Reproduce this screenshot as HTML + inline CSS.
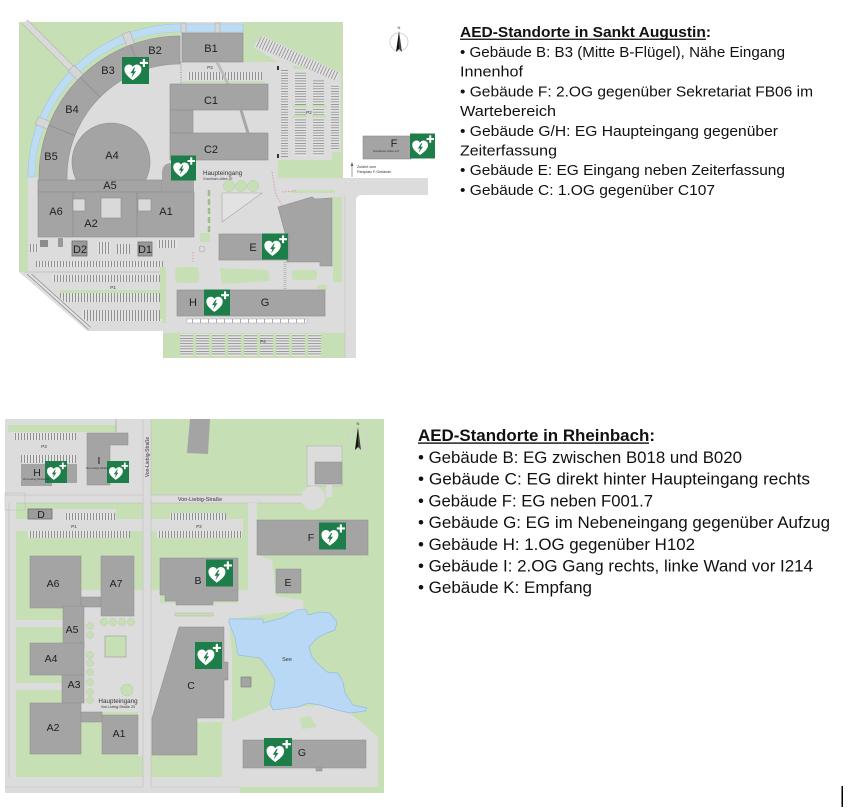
<!DOCTYPE html>
<html><head><meta charset="utf-8"><style>
html,body{margin:0;padding:0;background:#fff;}
svg{display:block;}
text{font-family:"Liberation Sans",Arial,sans-serif;}
.lb{font-size:11px;fill:#1e1e1e;text-anchor:middle;}
.lb2{font-size:10.5px;fill:#1e1e1e;text-anchor:middle;}
.tn{fill:#333;text-anchor:middle;}
.tx{font-size:15px;fill:#111;}
.tx2{font-size:16.5px;fill:#111;}
</style></head><body>
<svg width="857" height="808" viewBox="0 0 857 808" xmlns="http://www.w3.org/2000/svg">
<defs>
<symbol id="aed" viewBox="0 0 100 100">
<rect width="100" height="100" fill="#1e7e4a"/>
<path d="M40,86 C26,75 9,63 9,46 C9,35 17,28 26,28 C33,28 38,32 40,37 C43,32 48,28 55,28 C64,28 72,35 72,46 C72,63 55,75 40,86 Z" fill="#fff"/>
<path d="M45,39 L31,60 L40,60 L35,77 L52,53 L43,53 L49,39 Z" fill="#1e7e4a"/>
<path d="M77,7 H85 V18 H96 V26 H85 V37 H77 V26 H66 V18 H77 Z" fill="#fff"/>
</symbol>
<pattern id="vst" width="3" height="10" patternUnits="userSpaceOnUse"><rect width="3" height="10" fill="#e4e4e4"/><rect width="0.8" height="10" fill="#7c7c7c"/></pattern>
<pattern id="hst" width="10" height="2.6" patternUnits="userSpaceOnUse"><rect width="10" height="2.6" fill="#e4e4e4"/><rect width="10" height="0.7" fill="#7c7c7c"/></pattern>
<pattern id="dst" width="3" height="10" patternUnits="userSpaceOnUse" patternTransform="rotate(25)"><rect width="3" height="10" fill="#e4e4e4"/><rect width="0.8" height="10" fill="#8a8a8a"/></pattern>
<pattern id="dst2" width="3" height="10" patternUnits="userSpaceOnUse" patternTransform="rotate(-48)"><rect width="3" height="10" fill="#e4e4e4"/><rect width="0.8" height="10" fill="#8a8a8a"/></pattern>
<pattern id="wst" width="8" height="5" patternUnits="userSpaceOnUse"><rect width="8" height="5" fill="#fff"/><rect width="0.7" height="5" fill="#888"/></pattern>
</defs>

<!-- ================= TOP MAP (Sankt Augustin) ================= -->
<path d="M19,22 L343,22 L343,178 L428,178 L428,195 L362,195 Q356,195 356,201 L356,358 L163,358 L163,331 L87,331 L19,272 Z" fill="#dcdcdc"/>
<path d="M19,22 L180,22 L180,25 A152,152 0 0 0 28,177 L28,182 L24,182 L24,272 L19,272 Z" fill="#c6dfb4"/>
<line x1="25" y1="22" x2="81" y2="78" stroke="#b9b9b9" stroke-width="7"/>
<line x1="25" y1="22" x2="81" y2="78" stroke="#dadada" stroke-width="5.6"/>
<!-- right green -->
<path d="M243,22 L343,22 L343,178 L278,178 L278,62 L243,62 Z" fill="#c6dfb4"/>
<!-- P2 -->
<polygon points="253,47 262,35 341,73 341,152 332,160 278,160 278,62" fill="#dcdcdc"/>
<polygon points="254,46 262,36 340,73 336,81" fill="url(#dst)"/>
<rect x="281" y="70" width="7" height="87" fill="url(#hst)"/>
<rect x="295" y="72" width="11" height="84" fill="url(#hst)"/>
<rect x="313" y="80" width="11" height="76" fill="url(#hst)"/>
<rect x="331" y="84" width="8" height="66" fill="url(#hst)"/>
<g fill="#c6dfb4"><rect x="293" y="105" width="14" height="3"/><rect x="312" y="105" width="14" height="3"/><rect x="293" y="115" width="14" height="3"/><rect x="312" y="115" width="14" height="3"/><rect x="293" y="66" width="13" height="3"/><rect x="279" y="163" width="45" height="4"/><rect x="288" y="173" width="37" height="3"/><rect x="332" y="152" width="10" height="26"/></g>
<rect x="277" y="66" width="2" height="4" fill="#333"/><rect x="277" y="154" width="2" height="4" fill="#333"/>

<!-- water ring -->
<path d="M180,24 L243,24 L243,32 L180,32 A145,145 0 0 0 35,177 L28,177 A152,152 0 0 1 180,24 Z" fill="#bddcf3" stroke="#9ec4e4" stroke-width=".6"/>
<path d="M180,32 A145,145 0 0 0 35,177 L39,177 A141,141 0 0 1 180,36 Z" fill="#c6dfb4"/>
<g fill="#d6d6d6" stroke="#a8a8a8" stroke-width=".5">
<rect x="140" y="-4" width="14" height="8" transform="translate(180,177) rotate(-110.5)"/>
<rect x="140" y="-4" width="14" height="8" transform="translate(180,177) rotate(-135)"/>
<rect x="140" y="-4" width="14" height="8" transform="translate(180,177) rotate(-158.5)"/>
<rect x="181" y="23" width="5" height="10"/>
<rect x="215" y="23" width="5" height="10"/>
</g>
<!-- B ring -->
<path d="M180,36 A141,141 0 0 0 39,177 L39,181 L67,181 L67,177 A113,113 0 0 1 180,64 Z" fill="#a4a4a4" stroke="#8e8e8e" stroke-width=".6"/>
<g stroke="#8a8a8a" stroke-width=".7">
<line x1="140.4" y1="71.1" x2="130.6" y2="44.9"/>
<line x1="100.1" y1="97.1" x2="80.3" y2="77.3"/>
<line x1="74.9" y1="135.5" x2="48.9" y2="125.3"/>
</g>
<rect x="182" y="33" width="61" height="29" fill="#a4a4a4" stroke="#8e8e8e" stroke-width=".6"/>
<!-- P3 -->
<rect x="187" y="72" width="75" height="8" fill="url(#vst)"/>
<rect x="183" y="81" width="82" height="2" fill="#c6dfb4"/>
<line x1="181" y1="62" x2="181" y2="84" stroke="#8a8a8a" stroke-width="1" stroke-dasharray="1,1.5"/>
<line x1="217" y1="62" x2="228" y2="84" stroke="#bcbcbc" stroke-width="3"/>
<!-- A complex -->
<circle cx="111" cy="162" r="39" fill="#a4a4a4" stroke="#8e8e8e" stroke-width=".6"/>
<rect x="38" y="180" width="124" height="12" fill="#a4a4a4" stroke="#8e8e8e" stroke-width=".6"/>
<path d="M162,192 L162,173 Q162,163 172,163 L194,163 L194,192 Z" fill="#a4a4a4"/>
<rect x="38" y="192" width="156" height="45" fill="#a4a4a4" stroke="#8e8e8e" stroke-width=".6"/>
<g stroke="#8a8a8a" stroke-width=".7"><line x1="73" y1="192" x2="73" y2="237"/><line x1="137" y1="192" x2="137" y2="237"/></g>
<g fill="#d9d9d9" stroke="#8a8a8a" stroke-width=".6"><rect x="73" y="199" width="12" height="12"/><rect x="101" y="198" width="20" height="20"/><rect x="138" y="199" width="13" height="12"/></g>
<!-- C buildings -->
<g fill="#a4a4a4" stroke="#8e8e8e" stroke-width=".6">
<rect x="170" y="84" width="98" height="26"/><rect x="170" y="133" width="98" height="27"/><rect x="170" y="110" width="23" height="23"/>
</g>
<line x1="241" y1="110" x2="248" y2="133" stroke="#a6a6a6" stroke-width="3"/>
<!-- under A -->
<rect x="72" y="241" width="15" height="15" fill="#9a9a9a" stroke="#6f6f6f" stroke-width=".8"/>
<rect x="138" y="242" width="14" height="14" fill="#9a9a9a" stroke="#6f6f6f" stroke-width=".8"/>
<rect x="40" y="240" width="8" height="7" fill="#8c8c8c"/><rect x="58" y="238" width="5" height="9" fill="#999"/>
<rect x="30" y="244" width="9" height="8" fill="url(#vst)"/><rect x="98" y="242" width="12" height="12" fill="url(#vst)"/><rect x="117" y="244" width="13" height="10" fill="url(#vst)"/><rect x="157" y="240" width="20" height="8" fill="url(#vst)"/>
<rect x="36" y="261" width="127" height="6" fill="url(#vst)"/>
<line x1="24" y1="272" x2="162" y2="272" stroke="#aaa" stroke-width=".6"/>
<rect x="52" y="275" width="113" height="7" fill="url(#vst)"/>
<rect x="60" y="290" width="105" height="3" fill="#c6dfb4"/>
<rect x="60" y="293" width="105" height="9" fill="url(#vst)"/>
<rect x="82" y="310" width="83" height="11" fill="url(#vst)"/>
<rect x="162" y="290" width="4" height="33" fill="#c6dfb4"/>
<polygon points="25,274 33,274 92,326 87,331" fill="url(#dst2)"/>
<rect x="24" y="182" width="4" height="90" fill="#c6dfb4"/>
<!-- plaza details -->
<g fill="#c6dfb4" stroke="#b2cc9e" stroke-width=".5"><circle cx="229" cy="186" r="5.5"/><circle cx="241" cy="186" r="5.5"/><circle cx="253" cy="186" r="5.5"/></g>
<polygon points="222,193 262,193 222,222" fill="#e2e2e2" stroke="#a8a8a8" stroke-width=".6"/>
<line x1="209" y1="190" x2="209" y2="232" stroke="#9cc08a" stroke-width="2.5" stroke-dasharray="6,3"/>
<rect x="292" y="190" width="43" height="3" fill="#c6dfb4"/>
<rect x="333" y="197" width="9" height="85" fill="#c6dfb4"/>
<path d="M272,172 L276,195 L282,205 M282,192 L296,191 M193,252 L193,262" stroke="#e59aa5" stroke-width="1" stroke-dasharray="1.5,1.5" fill="none"/>
<rect x="200" y="233" width="10" height="9" fill="#c6dfb4"/>
<circle cx="202" cy="249" r="3" fill="none" stroke="#aaa" stroke-width=".6"/>
<!-- E and right building -->
<polygon points="278,207 312,197 315,199 332,198 332,266 320,266 320,262 287,262 287,240" fill="#a4a4a4" stroke="#8e8e8e" stroke-width=".6"/>
<rect x="219" y="234" width="70" height="26" fill="#a4a4a4" stroke="#8e8e8e" stroke-width=".6"/>
<!-- greens south -->
<g fill="#c6dfb4"><rect x="175" y="267" width="24" height="16" rx="4"/><polygon points="220,268 268,270 270,281 222,284"/><rect x="292" y="270" width="25" height="10" rx="3"/><rect x="317" y="285" width="10" height="5"/><rect x="160" y="267" width="6" height="52"/></g>
<line x1="285" y1="262" x2="285" y2="290" stroke="#bbb" stroke-width="3" stroke-dasharray="1,1"/>
<!-- G/H -->
<rect x="177" y="290" width="148" height="26" fill="#a4a4a4" stroke="#8e8e8e" stroke-width=".6"/>
<rect x="187" y="319" width="120" height="4" fill="url(#wst)" stroke="#999" stroke-width=".4"/>
<!-- P4 -->
<rect x="163" y="333" width="182" height="25" fill="#c6dfb4"/>
<g fill="url(#hst)"><rect x="180" y="334" width="13" height="22"/><rect x="196" y="334" width="13" height="22"/><rect x="212" y="334" width="13" height="22"/><rect x="228" y="334" width="13" height="22"/><rect x="244" y="334" width="13" height="22"/><rect x="260" y="334" width="13" height="22"/><rect x="276" y="334" width="13" height="22"/><rect x="292" y="334" width="13" height="22"/><rect x="308" y="334" width="13" height="22"/></g>
<rect x="345" y="195" width="11" height="163" fill="#dcdcdc"/>
<line x1="345" y1="195" x2="345" y2="358" stroke="#c4c4c4" stroke-width=".6"/>
<!-- F -->
<rect x="363" y="136" width="48" height="23" fill="#a4a4a4" stroke="#8e8e8e" stroke-width=".6"/>
<!-- compass -->
<circle cx="399" cy="42" r="9" fill="none" stroke="#d4d4d4" stroke-width="1"/>
<polygon points="399,31 396,52 399,49" fill="#111"/><polygon points="399,31 402,52 399,49" fill="#444"/>
<text x="399" y="29" font-size="4" class="tn">N</text>
<!-- arrow Zufahrt -->
<line x1="352" y1="177" x2="352" y2="164" stroke="#666" stroke-width=".6"/><polygon points="352,162 350.5,166 353.5,166" fill="#666"/>
<text x="357" y="168" font-size="3.6" fill="#333">Zufahrt zum</text>
<text x="357" y="173" font-size="3.6" fill="#333">Parkplatz F-Gebäude</text>

<!-- AEDs top -->
<use href="#aed" x="122" y="57" width="27" height="27"/>
<use href="#aed" x="171" y="155" width="25" height="26"/>
<use href="#aed" x="410" y="133" width="25" height="26"/>
<use href="#aed" x="262" y="233" width="26" height="27"/>
<use href="#aed" x="204" y="289" width="26" height="27"/>

<!-- labels top -->
<text class="lb" x="211" y="52">B1</text>
<text class="lb" x="155" y="54">B2</text>
<text class="lb" x="108" y="74">B3</text>
<text class="lb" x="72" y="113">B4</text>
<text class="lb" x="51" y="160">B5</text>
<text class="lb" x="112" y="159">A4</text>
<text class="lb" x="110" y="189" font-size="10">A5</text>
<text class="lb" x="56" y="215">A6</text>
<text class="lb" x="91" y="227">A2</text>
<text class="lb" x="166" y="215">A1</text>
<text class="lb" x="211" y="104">C1</text>
<text class="lb" x="211" y="153">C2</text>
<text class="lb" x="80" y="253">D2</text>
<text class="lb" x="145" y="253">D1</text>
<text class="lb" x="253" y="251">E</text>
<text class="lb" x="193" y="306">H</text>
<text class="lb" x="265" y="306">G</text>
<text class="lb" x="394" y="147">F</text>
<text x="386" y="152" font-size="3" class="tn">Grantham-Allee 2-6</text>
<text x="210" y="69" font-size="4.5" class="tn">P3</text>
<text x="309" y="114" font-size="4.5" class="tn">P2</text>
<text x="113" y="289" font-size="4.5" class="tn">P1</text>
<text x="263" y="343" font-size="4.5" class="tn">P4</text>
<text x="203" y="175" font-size="6.3" fill="#333">Haupteingang</text>
<text x="203" y="180" font-size="3.5" fill="#444">Grantham-Allee 20</text>

<!-- ================= LOWER MAP (Rheinbach) ================= -->
<rect x="5" y="419" width="379" height="374" fill="#c6dfb4"/>
<rect x="5" y="419" width="138" height="76" fill="#dcdcdc"/>
<rect x="8" y="425" width="108" height="7" fill="#c6dfb4"/>
<line x1="116" y1="419" x2="116" y2="432" stroke="#999" stroke-width=".6"/>
<rect x="14" y="433" width="62" height="7" fill="url(#vst)"/>
<rect x="21" y="455" width="55" height="8" fill="url(#vst)"/>
<text x="44" y="448" font-size="4.5" class="tn">P3</text>
<rect x="21" y="464" width="56" height="19" fill="#a4a4a4"/><rect x="21" y="483" width="31" height="3" fill="#a4a4a4"/>
<path d="M87,433 L128,433 L128,445 L110,445 L110,485 L87,485 Z" fill="#a4a4a4" stroke="#8e8e8e" stroke-width=".5"/>
<polygon points="190,419 210,419 208,454 187,453" fill="#a4a4a4"/>
<rect x="307" y="446" width="35" height="40" fill="#dcdcdc" stroke="#aaa" stroke-width=".5"/>
<rect x="315" y="462" width="27" height="22" fill="#a4a4a4" stroke="#8e8e8e" stroke-width=".5"/>
<rect x="326" y="485" width="6" height="12" fill="#dcdcdc"/>
<!-- roads -->
<rect x="5" y="495" width="305" height="8" fill="#dcdcdc"/>
<circle cx="313" cy="498" r="12" fill="#dcdcdc"/>
<line x1="5" y1="495" x2="302" y2="495" stroke="#b8b8b8" stroke-width=".5"/>
<line x1="16" y1="503" x2="302" y2="503" stroke="#b8b8b8" stroke-width=".5"/>
<rect x="5" y="503" width="11" height="290" fill="#dcdcdc"/>
<line x1="9" y1="503" x2="9" y2="787" stroke="#bcbcbc" stroke-width=".6"/>
<rect x="5" y="777" width="235" height="16" fill="#dcdcdc"/>
<line x1="5" y1="787" x2="240" y2="787" stroke="#bcbcbc" stroke-width=".6"/>
<rect x="5" y="493" width="20" height="17" fill="none" stroke="#bbb" stroke-width=".5"/>
<!-- P1 / P2 -->
<rect x="16" y="519" width="127" height="12" fill="#dcdcdc"/>
<rect x="52" y="509" width="64" height="10" fill="#dcdcdc"/>
<rect x="65" y="513" width="50" height="7" fill="url(#vst)"/>
<rect x="28" y="509" width="24" height="10" fill="#9c9c9c" stroke="#6f6f6f" stroke-width=".8"/>
<rect x="28" y="531" width="102" height="7" fill="url(#vst)"/>
<text x="74" y="528" font-size="4.5" class="tn">P1</text>
<rect x="151" y="519" width="92" height="12" fill="#dcdcdc"/>
<rect x="170" y="513" width="56" height="7" fill="url(#vst)"/>
<rect x="157" y="531" width="85" height="7" fill="url(#vst)"/>
<text x="199" y="528" font-size="4.5" class="tn">P2</text>
<rect x="248" y="503" width="9" height="55" fill="#dcdcdc"/>
<!-- plaza -->
<polygon points="78,590 160,590 160,603 238,603 238,590 248,590 248,555 257,555 272,560 276,596 303,600 303,610 229,619 232,655 232,722 152,723 152,718 138,718 138,712 78,712" fill="#dcdcdc"/>
<rect x="16" y="620" width="47" height="7" fill="#dcdcdc"/>
<rect x="16" y="683" width="46" height="7" fill="#dcdcdc"/>
<rect x="138" y="712" width="5" height="44" fill="#dcdcdc"/>
<!-- G region -->
<polygon points="222,723 232,722 270,706 273,710 298,707 320,705 337,710 350,713 378,737 378,787 240,787 240,777 222,777" fill="#dcdcdc"/>
<polygon points="300,718 310,716 317,727 302,729" fill="#c6dfb4"/>
<rect x="143" y="419" width="8" height="374" fill="#dcdcdc"/>
<line x1="143" y1="419" x2="143" y2="787" stroke="#b8b8b8" stroke-width=".5"/>
<line x1="151" y1="419" x2="151" y2="787" stroke="#b8b8b8" stroke-width=".5"/>
<!-- plaza greens -->
<rect x="105" y="636" width="21" height="21" fill="#c6dfb4" stroke="#9a9a9a" stroke-width=".6"/>
<g fill="#c6dfb4" stroke="#b2cc9e" stroke-width=".5">
<circle cx="104" cy="622" r="3.6"/><circle cx="113" cy="622" r="3.6"/><circle cx="122" cy="622" r="3.6"/><circle cx="131" cy="622" r="3.6"/>
<circle cx="90" cy="626" r="3.4"/><circle cx="90" cy="635" r="3.4"/><circle cx="90" cy="655" r="3.4"/><circle cx="90" cy="663" r="3.4"/><circle cx="90" cy="672" r="3.4"/><circle cx="90" cy="682" r="3.4"/><circle cx="90" cy="692" r="3.4"/><circle cx="90" cy="700" r="3.4"/>
<circle cx="127" cy="690" r="6"/></g>
<rect x="175" y="613" width="38" height="3" fill="#c6dfb4" stroke="#aaa" stroke-width=".4"/>
<!-- lake -->
<polygon points="229,619 263,619 263,623 282,618 297,610 305,609 308,615 320,612 330,613 337,622 335,630 327,633 317,638 309,647 312,657 317,663 327,672 338,673 343,682 345,693 353,705 367,708 365,711 350,713 337,710 320,705 308,703 298,707 273,710 270,703 273,693 275,680 267,667 260,658 238,655 235,637 229,623" fill="#b9d8f6" stroke="#93bde6" stroke-width=".7" stroke-linejoin="round"/>
<rect x="241" y="677" width="10" height="10" fill="#a4a4a4" stroke="#777" stroke-width=".6"/>
<!-- buildings lower -->
<g fill="#a4a4a4" stroke="#8e8e8e" stroke-width=".5">
<rect x="257" y="520" width="111" height="35"/>
<rect x="276" y="569" width="25" height="24"/>
<path d="M160,558 L238,558 L238,601 L213,601 L213,605 L176,605 L176,601 L165,601 L165,595 L160,595 Z"/>
<rect x="30" y="556" width="51" height="52"/>
<rect x="81" y="597" width="20" height="10"/>
<rect x="101" y="556" width="33" height="60"/>
<rect x="63" y="606" width="21" height="42"/>
<rect x="30" y="643" width="54" height="32"/>
<rect x="62" y="675" width="22" height="28"/>
<rect x="30" y="703" width="51" height="51"/>
<rect x="81" y="712" width="21" height="10"/>
<rect x="102" y="715" width="36" height="39"/>
<path d="M179,627 L224,627 L224,662 L228,662 L228,680 L224,680 L224,718 L197,718 L197,755 L152,755 L152,718 Z"/>
<rect x="243" y="740" width="123" height="28"/>
<rect x="316" y="767" width="6" height="4"/>
</g>
<!-- compass lower -->
<circle cx="358" cy="440" r="10" fill="none" stroke="#d0d0d0" stroke-width="1"/>
<polygon points="358,427 355,450 358,447" fill="#111"/><polygon points="358,427 361,450 358,447" fill="#444"/>
<text x="358" y="425" font-size="4" class="tn">N</text>
<!-- AEDs lower -->
<use href="#aed" x="45" y="461" width="22" height="22"/>
<use href="#aed" x="107" y="461" width="22" height="22"/>
<use href="#aed" x="319" y="522" width="27" height="28"/>
<use href="#aed" x="206" y="559" width="27" height="28"/>
<use href="#aed" x="195" y="642" width="27" height="27"/>
<use href="#aed" x="264" y="738" width="28" height="28"/>
<!-- labels lower -->
<text class="lb2" x="37" y="476">H</text>
<text x="36" y="480" font-size="2.8" class="tn">Von-Liebig-Straße 22</text>
<text class="lb2" x="99" y="464">I</text>
<text x="97" y="469" font-size="2.8" class="tn">Von-Liebig-Straße</text>
<text class="lb2" x="41" y="518">D</text>
<text class="lb2" x="311" y="541">F</text>
<text class="lb2" x="198" y="584">B</text>
<text class="lb2" x="288" y="586">E</text>
<text class="lb2" x="53" y="587">A6</text>
<text class="lb2" x="116" y="587">A7</text>
<text class="lb2" x="72" y="633">A5</text>
<text class="lb2" x="51" y="662">A4</text>
<text class="lb2" x="74" y="688">A3</text>
<text class="lb2" x="53" y="731">A2</text>
<text class="lb2" x="119" y="737">A1</text>
<text class="lb2" x="191" y="689">C</text>
<text class="lb2" x="302" y="756">G</text>
<text x="287" y="661" font-size="5.5" class="tn">See</text>
<text x="118" y="703" font-size="6.3" class="tn">Haupteingang</text>
<text x="118" y="708" font-size="3.6" class="tn">Von-Liebig-Straße 20</text>
<text x="200" y="501" font-size="5.5" class="tn">Von-Liebig-Straße</text>
<text x="0" y="0" font-size="5" class="tn" transform="translate(149,457) rotate(-90)">Von-Liebig-Straße</text>

<!-- ================= TEXT BLOCKS ================= -->
<text class="tx" x="460" y="37" font-weight="bold" textLength="251" lengthAdjust="spacingAndGlyphs">AED-Standorte in Sankt Augustin:</text>
<rect x="460" y="38.6" width="246" height="1.3" fill="#111"/>
<text class="tx" x="460" y="57" textLength="325" lengthAdjust="spacingAndGlyphs">• Gebäude B: B3 (Mitte B-Flügel), Nähe Eingang</text>
<text class="tx" x="460" y="76.7" textLength="63" lengthAdjust="spacingAndGlyphs">Innenhof</text>
<text class="tx" x="460" y="96.4" textLength="353" lengthAdjust="spacingAndGlyphs">• Gebäude F: 2.OG gegenüber Sekretariat FB06 im</text>
<text class="tx" x="460" y="116" textLength="96" lengthAdjust="spacingAndGlyphs">Wartebereich</text>
<text class="tx" x="460" y="135.8" textLength="318" lengthAdjust="spacingAndGlyphs">• Gebäude G/H: EG Haupteingang gegenüber</text>
<text class="tx" x="460" y="155.5" textLength="97" lengthAdjust="spacingAndGlyphs">Zeiterfassung</text>
<text class="tx" x="460" y="175.2" textLength="325" lengthAdjust="spacingAndGlyphs">• Gebäude E: EG Eingang neben Zeiterfassung</text>
<text class="tx" x="460" y="195" textLength="255" lengthAdjust="spacingAndGlyphs">• Gebäude C: 1.OG gegenüber C107</text>

<text class="tx2" x="418" y="441" font-weight="bold" textLength="237" lengthAdjust="spacingAndGlyphs">AED-Standorte in Rheinbach:</text>
<rect x="418" y="442.4" width="231" height="1.4" fill="#111"/>
<text class="tx2" x="418" y="463" textLength="324" lengthAdjust="spacingAndGlyphs">• Gebäude B: EG zwischen B018 und B020</text>
<text class="tx2" x="418" y="484.7" textLength="392" lengthAdjust="spacingAndGlyphs">• Gebäude C: EG direkt hinter Haupteingang rechts</text>
<text class="tx2" x="418" y="506.4" textLength="235" lengthAdjust="spacingAndGlyphs">• Gebäude F: EG neben F001.7</text>
<text class="tx2" x="418" y="528" textLength="412" lengthAdjust="spacingAndGlyphs">• Gebäude G: EG im Nebeneingang gegenüber Aufzug</text>
<text class="tx2" x="418" y="549.8" textLength="277" lengthAdjust="spacingAndGlyphs">• Gebäude H: 1.OG gegenüber H102</text>
<text class="tx2" x="418" y="571.5" textLength="395" lengthAdjust="spacingAndGlyphs">• Gebäude I: 2.OG Gang rechts, linke Wand vor I214</text>
<text class="tx2" x="418" y="593.2" textLength="174" lengthAdjust="spacingAndGlyphs">• Gebäude K: Empfang</text>

<rect x="841.5" y="786" width="1.5" height="21" fill="#000"/>
</svg>
</body></html>
